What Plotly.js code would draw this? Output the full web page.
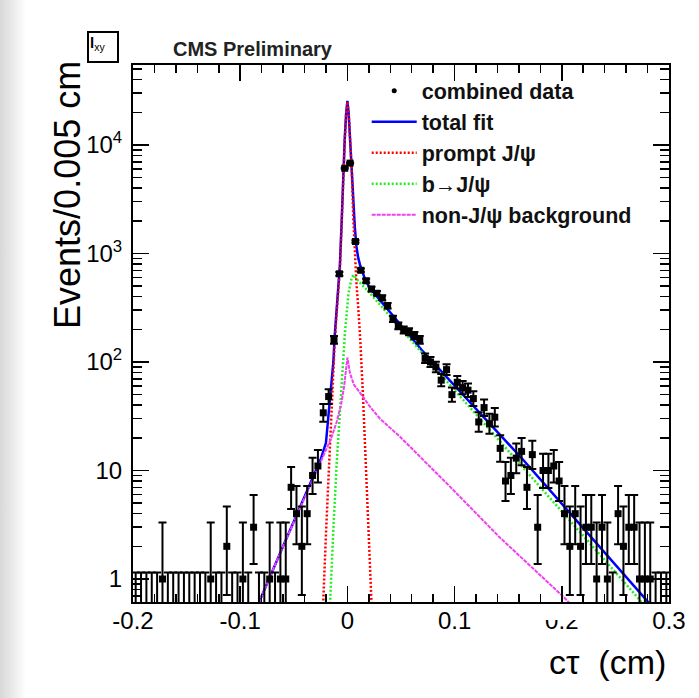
<!DOCTYPE html>
<html><head><meta charset="utf-8">
<script src="https://cdn.plot.ly/plotly-3.0.1.min.js"></script>
<style>
html,body{margin:0;padding:0;background:#fff;}
#wrap{position:relative;width:699px;height:698px;background:linear-gradient(to right,#d8d8d8 0px,#e9e9e9 12px,#f6f6f6 20px,#ffffff 26px,#ffffff 100%);}
#chart{width:699px;height:698px;}
</style></head><body><div id="wrap"><div id="chart"></div></div>
<script>
// ---- histogram: bin centres (cm) and counts per 0.005 cm ----
var binCenters = [
-0.1975,-0.1925,-0.1875,-0.1825,-0.1775,-0.1725,-0.1675,-0.1625,-0.1575,-0.1525,
-0.1475,-0.1425,-0.1375,-0.1325,-0.1275,-0.1225,-0.1175,-0.1125,-0.1075,-0.1025,
-0.0975,-0.0925,-0.0875,-0.0825,-0.0775,-0.0725,-0.0675,-0.0625,-0.0575,-0.0525,
-0.0475,-0.0425,-0.0375,-0.0325,-0.0275,-0.0225,-0.0175,-0.0125,-0.0075,-0.0025,
0.0025,0.0075,0.0125,0.0175,0.0225,0.0275,0.0325,0.0375,0.0425,0.0475,
0.0525,0.0575,0.0625,0.0675,0.0725,0.0775,0.0825,0.0875,0.0925,0.0975,
0.1025,0.1075,0.1125,0.1175,0.1225,0.1275,0.1325,0.1375,0.1425,0.1475,
0.1525,0.1575,0.1625,0.1675,0.1725,0.1775,0.1825,0.1875,0.1925,0.1975,
0.2025,0.2075,0.2125,0.2175,0.2225,0.2275,0.2325,0.2375,0.2425,0.2475,
0.2525,0.2575,0.2625,0.2675,0.2725,0.2775,0.2825,0.2875,0.2925,0.2975];
var counts = [
0,0,0,0,0,1,0,0,0,0,
0,0,0,0,1,0,0,2,0,0,
1,0,3,0,0,1,0,1,1,7,
4,2,4,9,11,34,48,160,650,6100,
6800,1290,700,560,470,430,390,330,250,215,
197,190,175,160,108,100,90,68,85,50,
65,58,55,46,28,38,27,31,16,8,
9,13,15,7,14,3,10,10,11,8,
4,2,4,2,3,3,1,3,1,0,
4,2,3,3,1,1,1,0,0,0];

// ---- fit components ----
var totalX = [-0.0880,-0.0815,-0.0600,-0.0400,-0.0250,-0.0200,-0.0178,-0.0150,-0.0131,-0.0120,-0.0100,-0.0085,-0.0070,-0.0055,-0.0040,-0.0025,-0.0012,0,0.0012,0.0025,0.0040,0.0055,0.0070,0.0085,0.0100,0.0120,0.0145,0.0170,0.0211,0.0693,0.1641,0.2792,0.2900];
var totalY = [0.4,0.64,2.0,5.6,12.6,18,30,60,100,165,320,470,780,1800,5300,11300,19400,25500,19500,11500,6700,2800,1700,1150,920,770,650,560,478,129,12.5,0.64,0.48];

var promptX = [-0.0250,-0.0225,-0.0200,-0.0170,-0.0145,-0.0120,-0.0100,-0.0085,-0.0070,-0.0055,-0.0040,-0.0025,-0.0012,0,0.0012,0.0025,0.0040,0.0055,0.0070,0.0085,0.0100,0.0120,0.0145,0.0170,0.0200,0.0225,0.0250];
var promptY = [0.15,0.68,2.6,11.7,45,140,290,440,720,1700,5200,11000,19000,25000,19000,11000,6000,2100,1000,520,330,160,50,12,2.8,0.7,0.15];

var bX = [-0.0175,-0.0162,-0.0130,-0.0100,-0.0060,-0.0022,0.0010,0.0040,0.0060,0.0100,0.0211,0.1000,0.2000,0.2729,0.2850];
var bY = [0.3,0.64,3,11.7,55,190,430,600,634,560,430,55,4.2,0.64,0.4];

var bkgX = [-0.0880,-0.0815,-0.0600,-0.0400,-0.0250,-0.0150,-0.0100,-0.0060,-0.0030,-0.0010,0,0.0024,0.0060,0.0118,0.0211,0.0304,0.0490,0.0957,0.1424,0.2014,0.2150];
var bkgY = [0.4,0.64,2.0,5.6,12.4,20,28,40,60,90,110,79,62,52,38.7,30,20.5,7.1,2.4,0.687,0.5];

var legendNames = ["combined data","total fit","prompt J/\u03c8","b\u2192J/\u03c8","non-J/\u03c8 background"];
var yTickVals = [1,10,100,1000,10000];
var yTickText = ["1","10","10<sup>2</sup>","10<sup>3</sup>","10<sup>4</sup>"];
var xTickVals = [-0.2,-0.1,0,0.1,0.2,0.3];
var xTickText = ["-0.2","-0.1","0","0.1","0.2","0.3"];

// Poisson intervals for the counts
function errUp(n){ return n===0 ? 1.15 : Math.sqrt(n+0.75)+1; }
function errLo(n){ if(n===0) return 0; var t=1-1/(9*n)-1/(3*Math.sqrt(n)); return n-n*t*t*t; }

var nzX=[],nzY=[],nzUp=[],nzLo=[],zX=[],zY=[],zLo=[];
for(var i=0;i<counts.length;i++){
  var n=counts[i];
  if(n>0){nzX.push(binCenters[i]);nzY.push(n);nzUp.push(errUp(n));nzLo.push(errLo(n));}
  else {zX.push(binCenters[i]);zY.push(errUp(0));zLo.push(errUp(0)-0.01);}
}

var minorY=[];
for(var d=-1;d<=4;d++){for(var m=2;m<=9;m++){minorY.push(m*Math.pow(10,d));}}

var font="Liberation Sans, Arial, Helvetica, sans-serif";
var xRange=[-0.2,0.3], yRange=[-0.212,4.737];

var traces=[
 {x:totalX,y:totalY,mode:'lines',name:legendNames[1],legendrank:2,line:{color:'#0000ff',width:2.5},hoverinfo:'skip'},
 {x:promptX,y:promptY,mode:'lines',name:legendNames[2],legendrank:3,line:{color:'#ff0000',width:2.5,dash:'2px,2px'},hoverinfo:'skip'},
 {x:bX,y:bY,mode:'lines',name:legendNames[3],legendrank:4,line:{color:'#22ee22',width:2.5,dash:'2px,2px'},hoverinfo:'skip'},
 {x:bkgX,y:bkgY,mode:'lines',name:legendNames[4],legendrank:5,line:{color:'#f040f0',width:2,dash:'4px,1px'},hoverinfo:'skip'},
 {x:zX,y:zY,mode:'markers',showlegend:false,marker:{size:1,color:'rgba(0,0,0,0)'},
  error_y:{type:'data',symmetric:false,array:zX.map(function(){return 0;}),arrayminus:zLo,color:'#000',thickness:2,width:4}},
 {x:nzX,y:nzY,mode:'markers',name:legendNames[0],showlegend:false,marker:{symbol:'square',size:7,color:'#000'},
  error_y:{type:'data',symmetric:false,array:nzUp,arrayminus:nzLo,color:'#000',thickness:2,width:4}},
 // legend entry for the data (small dot as in the reference)
 {x:[null],y:[null],mode:'markers',name:legendNames[0],legendrank:1,marker:{symbol:'circle',size:5,color:'#000'}},
 // carrier for the mirrored tick axes
 {x:[null],y:[null],xaxis:'x2',yaxis:'y2',mode:'markers',showlegend:false,hoverinfo:'skip'}
];

var tickCommon={ticks:'inside',tickwidth:1.5,tickcolor:'#000',showgrid:false,zeroline:false};
var layout={
 width:699,height:698,
 margin:{l:133,r:30,t:65,b:96,pad:0},
 paper_bgcolor:'rgba(0,0,0,0)',plot_bgcolor:'#fff',
 font:{family:font,color:'#000',size:24},
 showlegend:true,
 legend:{x:0.436,y:0.99,xanchor:'left',yanchor:'top',bgcolor:'rgba(0,0,0,0)',borderwidth:0,
   font:{family:font,size:21.5,color:'#111',weight:'bold'},itemwidth:45,traceorder:'normal'},
 xaxis:Object.assign({type:'linear',range:xRange,tickmode:'array',tickvals:xTickVals,ticktext:xTickText,
   ticklen:16,showline:true,linewidth:2,linecolor:'#000',mirror:'allticks',ticklabelstandoff:-4,
   tickfont:{family:font,size:24,color:'#000'},
   minor:{dtick:0.02,tick0:0,ticks:'inside',ticklen:8,tickwidth:1.5,tickcolor:'#000',showgrid:false}},tickCommon),
 yaxis:Object.assign({type:'log',range:yRange,tickmode:'array',tickvals:yTickVals,ticktext:yTickText,
   ticklen:16,showline:true,linewidth:2,linecolor:'#000',mirror:'allticks',ticklabelstandoff:4,
   tickfont:{family:font,size:24,color:'#000'},
   minor:{tickmode:'array',tickvals:minorY,ticks:'inside',ticklen:9,tickwidth:1.5,tickcolor:'#000',showgrid:false}},tickCommon),
 xaxis2:Object.assign({type:'linear',range:xRange,overlaying:'x',side:'top',anchor:'y2',tickmode:'array',tickvals:xTickVals,
   ticklen:16,showticklabels:false,showline:false,
   minor:{dtick:0.02,tick0:0,ticks:'inside',ticklen:8,tickwidth:1.5,tickcolor:'#000',showgrid:false}},tickCommon),
 yaxis2:Object.assign({type:'log',range:yRange,overlaying:'y',side:'right',anchor:'x2',tickmode:'array',tickvals:yTickVals,
   ticklen:16,showticklabels:false,showline:false,
   minor:{tickmode:'array',tickvals:minorY,ticks:'inside',ticklen:9,tickwidth:1.5,tickcolor:'#000',showgrid:false}},tickCommon),
 shapes:[
  {type:'rect',xref:'paper',yref:'paper',x0:0.76,x1:0.845,y0:-0.0335,y1:-0.006,fillcolor:'#fff',line:{width:0},layer:'above'}
 ],
 annotations:[
  {text:'<b>CMS Preliminary</b>',xref:'paper',yref:'paper',x:0.2248,y:1.0298,xanchor:'center',yanchor:'middle',showarrow:false,font:{family:font,size:20,color:'#222'}},
  {text:'Events/0.005 cm',xref:'paper',yref:'paper',x:-0.1213,y:0.758,textangle:-90,xanchor:'center',yanchor:'middle',showarrow:false,font:{family:font,size:36,color:'#000'}},
  {text:'c\u03c4\u00a0\u00a0(cm)',xref:'paper',yref:'paper',x:0.998,y:-0.1117,xanchor:'right',yanchor:'middle',showarrow:false,font:{family:font,size:34,color:'#000'}},
  {text:'<b>l</b><sub>xy</sub>',xref:'paper',yref:'paper',x:-0.0569,y:1.0326,xanchor:'center',yanchor:'middle',showarrow:false,
   bordercolor:'#000',borderwidth:2,borderpad:1,width:26,height:26,align:'left',valign:'top',font:{family:font,size:15,color:'#000'}}
 ]
};
Plotly.newPlot('chart',traces,layout,{staticPlot:true,displayModeBar:false});
</script></body></html>
